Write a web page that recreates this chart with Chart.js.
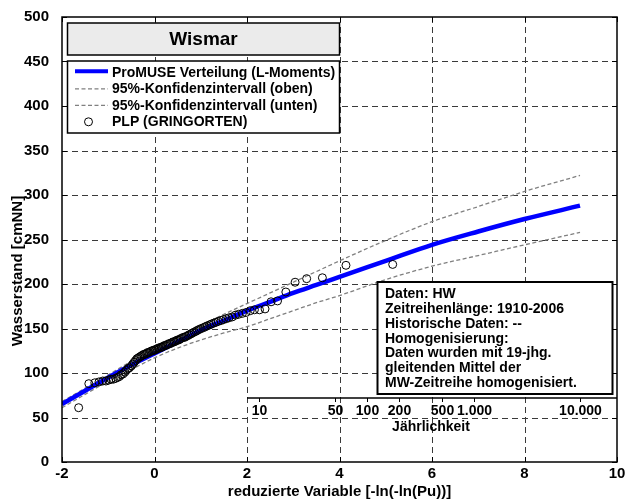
<!DOCTYPE html>
<html>
<head>
<meta charset="utf-8">
<script src="https://cdn.jsdelivr.net/npm/chart.js@4.4.1/dist/chart.umd.min.js"></script>
<style>
  html, body { margin: 0; padding: 0; background: #ffffff; }
  canvas { display: block; }
</style>
</head>
<body>
<canvas id="c" width="625" height="501"></canvas>
<script>
// ---------- data ----------
// PLP (Gringorten) points: reduced variable and water level [cmNN]
const plpReduced = [
  -1.64, -1.42, -1.29, -1.20, -1.12, -1.05, -0.99, -0.94, -0.89, -0.84,
  -0.80, -0.76, -0.72, -0.68, -0.64, -0.61, -0.57, -0.54, -0.50, -0.47,
  -0.44, -0.41, -0.38, -0.35, -0.32, -0.29, -0.26, -0.23, -0.20, -0.17,
  -0.15, -0.12, -0.09, -0.06, -0.03, -0.005, 0.02, 0.05, 0.08, 0.11,
  0.14, 0.16, 0.19, 0.22, 0.25, 0.28, 0.31, 0.34, 0.37, 0.40,
  0.43, 0.46, 0.49, 0.52, 0.55, 0.58, 0.62, 0.65, 0.68, 0.72,
  0.75, 0.79, 0.82, 0.86, 0.90, 0.93, 0.97, 1.01, 1.06, 1.10,
  1.14, 1.19, 1.23, 1.28, 1.33, 1.38, 1.44, 1.49, 1.55, 1.61,
  1.68, 1.75, 1.82, 1.90, 1.98, 2.07, 2.16, 2.27, 2.39, 2.52,
  2.66, 2.84, 3.04, 3.29, 3.63, 4.14, 5.15
];
const plpLevel = [
  61, 88, 89, 90, 91, 91, 92, 93, 93, 94,
  95, 96, 98, 99, 101, 103, 105, 106, 108, 110,
  112, 114, 116, 117, 118, 119, 120, 121, 121, 122,
  123, 123, 124, 125, 125, 126, 126, 127, 128, 128,
  129, 129, 130, 131, 131, 132, 133, 133, 134, 135,
  135, 136, 137, 137, 138, 139, 140, 140, 141, 142,
  143, 144, 145, 146, 147, 148, 149, 150, 151, 152,
  153, 154, 155, 156, 157, 158, 159, 160, 161, 162,
  163, 165, 166, 167, 168, 170, 171, 171, 172, 180,
  181, 191, 202, 206, 207, 221, 222
];
// Fitted distribution and confidence band
const curveReduced = [-2, -1.5, -1, -0.5, 0, 0.5, 1, 1.5, 2, 2.5, 3, 3.5, 4, 5, 6, 7, 8, 9.2];
const fitLevel     = [65, 80, 95, 109, 122, 135, 148, 159, 170, 180, 190, 199, 208, 226, 244, 259, 273, 288];
const upperLevel   = [68, 83, 98, 113, 127, 140, 153, 166, 178, 190, 202, 214, 226, 249, 270, 287, 304, 322];
const lowerLevel   = [61, 76, 91, 104, 117, 128, 137, 145, 152, 161, 170, 179, 187, 205, 220, 232, 244, 258];
// Return period axis (Jährlichkeit)
const returnPeriods = [10, 50, 100, 200, 500, 1000, 10000];
const returnLabels  = ['10', '50', '100', '200', '500', '1.000', '10.000'];
// Texts
const titleText = 'Wismar';
const legendLabels = ['ProMUSE Verteilung (L-Moments)', '95%-Konfidenzintervall (oben)', '95%-Konfidenzintervall (unten)', 'PLP (GRINGORTEN)'];
const infoLines = ['Daten: HW', 'Zeitreihenlänge: 1910-2006', 'Historische Daten: --', 'Homogenisierung:', 'Daten wurden mit 19-jhg.', 'gleitenden Mittel der', 'MW-Zeitreihe homogenisiert.'];
const xAxisTitle = 'reduzierte Variable [-ln(-ln(Pu))]';
const yAxisTitle = 'Wasserstand [cmNN]';

// ---------- helpers ----------
const FONT = '"Liberation Sans", Arial, Helvetica, sans-serif';
const toXY = (xs, ys) => xs.map((v, i) => ({ x: v, y: ys[i] }));

const decorPlugin = {
  id: 'decor',
  beforeDraw(chart) {
    const ctx = chart.ctx;
    ctx.save();
    ctx.fillStyle = '#ffffff';
    ctx.fillRect(0, 0, chart.width, chart.height);
    ctx.restore();
  },
  beforeDatasetsDraw(chart) {
    const { ctx, chartArea: a, scales: { x, y } } = chart;
    ctx.save();
    ctx.strokeStyle = '#3a3a3a';
    ctx.lineWidth = 1;
    ctx.setLineDash([6, 4]);
    x.ticks.forEach(t => {
      const px = Math.round(x.getPixelForValue(t.value)) + 0.5;
      if (px <= a.left + 1 || px >= a.right - 1) return;
      ctx.beginPath(); ctx.moveTo(px, a.top); ctx.lineTo(px, a.bottom); ctx.stroke();
    });
    y.ticks.forEach(t => {
      const py = Math.round(y.getPixelForValue(t.value)) + 0.5;
      if (py <= a.top + 1 || py >= a.bottom - 1) return;
      ctx.beginPath(); ctx.moveTo(a.left, py); ctx.lineTo(a.right, py); ctx.stroke();
    });
    ctx.restore();
  },
  afterDatasetsDraw(chart) {
    const { ctx, chartArea: a, scales: { x, y } } = chart;
    ctx.save();
    ctx.setLineDash([]);
    // axes box
    ctx.strokeStyle = '#000';
    ctx.lineWidth = 1.5;
    ctx.strokeRect(a.left, a.top, a.right - a.left, a.bottom - a.top);
    // inward ticks on all four sides
    ctx.lineWidth = 1;
    const tl = 5;
    x.ticks.forEach(t => {
      const px = Math.round(x.getPixelForValue(t.value)) + 0.5;
      ctx.beginPath();
      ctx.moveTo(px, a.bottom); ctx.lineTo(px, a.bottom - tl);
      ctx.moveTo(px, a.top); ctx.lineTo(px, a.top + tl);
      ctx.stroke();
    });
    y.ticks.forEach(t => {
      const py = Math.round(y.getPixelForValue(t.value)) + 0.5;
      ctx.beginPath();
      ctx.moveTo(a.left, py); ctx.lineTo(a.left + tl, py);
      ctx.moveTo(a.right, py); ctx.lineTo(a.right - tl, py);
      ctx.stroke();
    });

    // return-period axis (Jährlichkeit)
    const rpY = 398;
    ctx.strokeStyle = '#000';
    ctx.lineWidth = 1.5;
    ctx.beginPath();
    ctx.moveTo(x.getPixelForValue(2), rpY);
    ctx.lineTo(a.right, rpY);
    ctx.stroke();
    ctx.lineWidth = 1;
    ctx.fillStyle = '#000';
    ctx.font = 'bold 14px ' + FONT;
    ctx.textAlign = 'center';
    ctx.textBaseline = 'middle';
    returnPeriods.forEach((T, i) => {
      const red = -Math.log(-Math.log(1 - 1 / T));
      const px = Math.round(x.getPixelForValue(red)) + 0.5;
      ctx.beginPath(); ctx.moveTo(px, rpY); ctx.lineTo(px, rpY + 4); ctx.stroke();
      ctx.fillText(returnLabels[i], px, rpY + 13);
    });
    ctx.fillText('Jährlichkeit', 431, rpY + 29);

    // title box
    const bx = 67.5, bw = 272;
    ctx.fillStyle = '#ebebeb';
    ctx.fillRect(bx, 23, bw, 32);
    ctx.strokeStyle = '#000';
    ctx.lineWidth = 1.5;
    ctx.strokeRect(bx, 23, bw, 32);
    ctx.fillStyle = '#000';
    ctx.font = 'bold 19px ' + FONT;
    ctx.textAlign = 'center';
    ctx.fillText(titleText, bx + bw / 2, 40);

    // legend box
    ctx.fillStyle = '#ffffff';
    ctx.fillRect(bx, 61, bw, 72);
    ctx.strokeRect(bx, 61, bw, 72);
    const rows = [72.3, 88.8, 105.3, 121.8];
    ctx.font = 'bold 14px ' + FONT;
    ctx.textAlign = 'left';
    ctx.fillStyle = '#000';
    legendLabels.forEach((lab, i) => ctx.fillText(lab, 112, rows[i] + 0.5));
    // samples
    ctx.strokeStyle = '#0000ff';
    ctx.lineWidth = 4;
    ctx.beginPath(); ctx.moveTo(75, rows[0] - 1); ctx.lineTo(108, rows[0] - 1); ctx.stroke();
    ctx.strokeStyle = '#808080';
    ctx.lineWidth = 1.2;
    ctx.setLineDash([4, 2.5]);
    [1, 2].forEach(i => { ctx.beginPath(); ctx.moveTo(75, rows[i]); ctx.lineTo(108, rows[i]); ctx.stroke(); });
    ctx.setLineDash([]);
    ctx.strokeStyle = '#000';
    ctx.lineWidth = 1;
    ctx.beginPath(); ctx.arc(88.5, rows[3], 4, 0, Math.PI * 2); ctx.stroke();

    // info box
    ctx.fillStyle = '#ffffff';
    ctx.fillRect(377.5, 282, 235, 112);
    ctx.strokeStyle = '#000';
    ctx.lineWidth = 2;
    ctx.strokeRect(377.5, 282, 235, 112);
    ctx.fillStyle = '#000';
    ctx.font = 'bold 14px ' + FONT;
    ctx.textAlign = 'left';
    infoLines.forEach((l, i) => ctx.fillText(l, 385, 294 + i * 14.9));
    ctx.restore();
  },
  afterDraw(chart) {
    const { ctx, chartArea: a } = chart;
    ctx.save();
    ctx.fillStyle = '#000';
    ctx.font = 'bold 15px ' + FONT;
    ctx.textAlign = 'center';
    ctx.textBaseline = 'middle';
    ctx.fillText(xAxisTitle, (a.left + a.right) / 2, 492);
    ctx.translate(18, 271);
    ctx.rotate(-Math.PI / 2);
    ctx.fillText(yAxisTitle, 0, 0);
    ctx.restore();
  }
};

new Chart(document.getElementById('c'), {
  type: 'scatter',
  data: {
    datasets: [
      {
        label: legendLabels[3],
        data: toXY(plpReduced, plpLevel),
        showLine: false,
        pointStyle: 'circle',
        pointRadius: 4,
        pointBorderWidth: 1,
        pointBorderColor: '#000',
        pointBackgroundColor: 'rgba(0,0,0,0)'
      },
      {
        label: legendLabels[0],
        data: toXY(curveReduced, fitLevel),
        showLine: true,
        borderColor: '#0000ff',
        borderWidth: 4.5,
        pointRadius: 0,
        cubicInterpolationMode: 'monotone'
      },
      {
        label: legendLabels[1],
        data: toXY(curveReduced, upperLevel),
        showLine: true,
        borderColor: '#808080',
        borderWidth: 1.3,
        borderDash: [4, 2.5],
        pointRadius: 0,
        cubicInterpolationMode: 'monotone'
      },
      {
        label: legendLabels[2],
        data: toXY(curveReduced, lowerLevel),
        showLine: true,
        borderColor: '#808080',
        borderWidth: 1.3,
        borderDash: [4, 2.5],
        pointRadius: 0,
        cubicInterpolationMode: 'monotone'
      }
    ]
  },
  options: {
    responsive: false,
    animation: false,
    devicePixelRatio: 1,
    layout: { padding: { left: 0, right: 8, top: 17, bottom: 0 } },
    plugins: { legend: { display: false }, tooltip: { enabled: false }, title: { display: false } },
    scales: {
      x: {
        type: 'linear', min: -2, max: 10,
        grid: { display: false },
        border: { display: false },
        ticks: { stepSize: 2, color: '#000', padding: -5, maxRotation: 0, font: { family: FONT, weight: 'bold', size: 15 } },
        afterFit(s) { s.height = 39; s.paddingLeft = 0; s.paddingRight = 0; }
      },
      y: {
        type: 'linear', min: 0, max: 500,
        grid: { display: false },
        border: { display: false },
        ticks: { stepSize: 50, color: '#000', padding: 5, font: { family: FONT, weight: 'bold', size: 15 } },
        afterFit(s) { s.width = 62; s.paddingTop = 0; s.paddingBottom = 0; }
      }
    }
  },
  plugins: [decorPlugin]
});
</script>
</body>
</html>
